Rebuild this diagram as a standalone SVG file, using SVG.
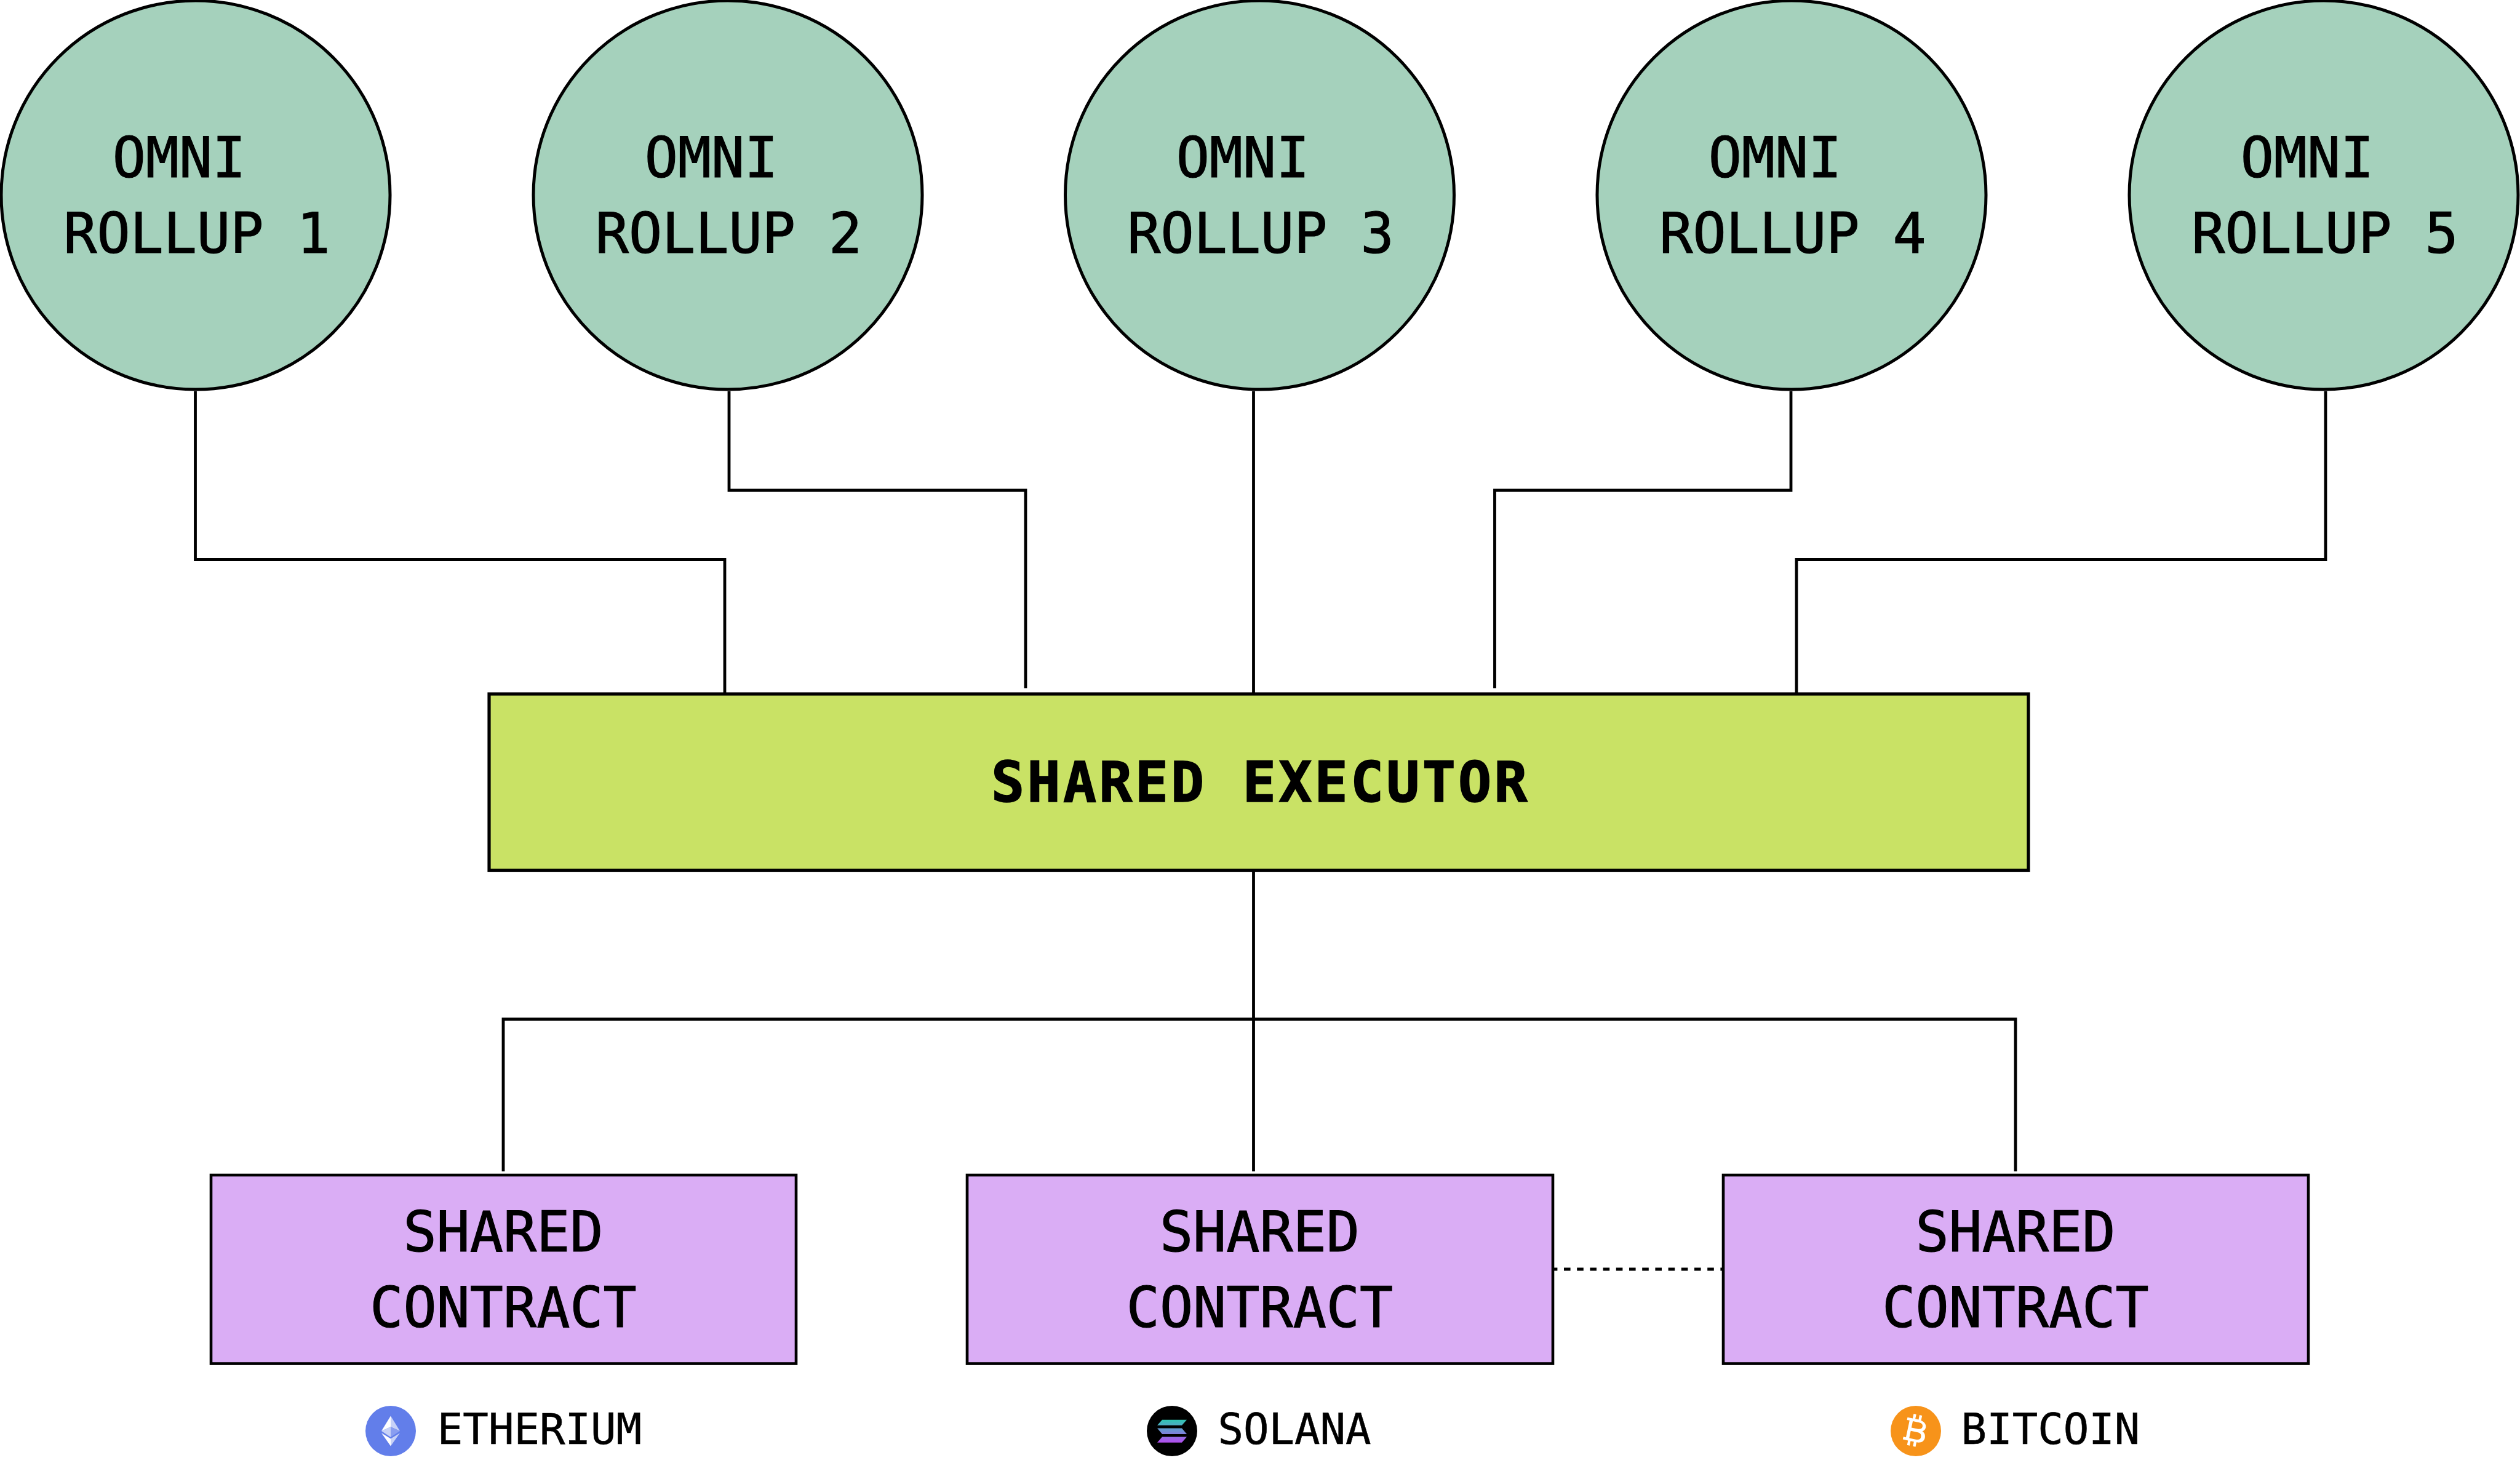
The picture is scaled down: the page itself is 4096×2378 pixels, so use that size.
<svg xmlns="http://www.w3.org/2000/svg" width="4096" height="2378" viewBox="0 0 4096 2378">
<style>
text{font-family:"DejaVu Sans Mono","Liberation Mono",monospace;fill:#000;stroke:#000;text-anchor:middle}
.t{font-size:90px;stroke-width:1.2px}
.b{font-size:90px;font-weight:700;letter-spacing:4.2px;stroke-width:1.6px}
.l{font-size:69px;stroke-width:.6px}
.c{fill:#A5D1BC;stroke:#000;stroke-width:5}
.p{fill:#DAADF5;stroke:#000;stroke-width:4.6}
.e{fill:#C9E265;stroke:#000;stroke-width:5.2}
#connectors path{fill:none;stroke:#000;stroke-width:4.8}
</style>
<defs>
<linearGradient id="sg" x1="0" y1="-19" x2="0" y2="19" gradientUnits="userSpaceOnUse"><stop offset="0" stop-color="#2CC8B0"/><stop offset="0.5" stop-color="#6F90D4"/><stop offset="1" stop-color="#B44CEF"/></linearGradient>
</defs>
<rect width="4096" height="2378" fill="#fff"/>
<g id="connectors">
<path d="M317.5 636V909.500H1178V1126"/>
<path d="M1185 636V797H1667V1118.500"/>
<path d="M2037.5 636V1126"/>
<path d="M2911 636V797H2429.500V1118.500"/>
<path d="M3780 636V909.500H2920V1126"/>
<path d="M2037.5 1417V1904"/>
<path d="M818 1904V1656.500H3276V1904"/>
<path d="M2520.8 2063H2804" style="stroke-dasharray:10.6 10.6"/>
</g>
<g id="rollup1"><circle class="c" cx="318" cy="317" r="316"/><text class="t" x="291" y="288">OMNI</text><text class="t" x="320" y="411">ROLLUP 1</text></g>
<g id="rollup2"><circle class="c" cx="1183" cy="317" r="316"/><text class="t" x="1156" y="288">OMNI</text><text class="t" x="1184.500" y="411">ROLLUP 2</text></g>
<g id="rollup3"><circle class="c" cx="2047.5" cy="317" r="316"/><text class="t" x="2020" y="288">OMNI</text><text class="t" x="2049" y="411">ROLLUP 3</text></g>
<g id="rollup4"><circle class="c" cx="2912" cy="317" r="316"/><text class="t" x="2885" y="288">OMNI</text><text class="t" x="2914" y="411">ROLLUP 4</text></g>
<g id="rollup5"><circle class="c" cx="3777" cy="317" r="316"/><text class="t" x="3750" y="288">OMNI</text><text class="t" x="3779" y="411">ROLLUP 5</text></g>
<g id="executor"><rect class="e" x="795" y="1128" width="2502" height="286.500"/><text class="b" x="2049" y="1303">SHARED EXECUTOR</text></g>
<g id="contract1"><rect class="p" x="343" y="1910" width="951" height="306.500"/><text class="t" x="818" y="2034">SHARED</text><text class="t" x="818" y="2157">CONTRACT</text></g>
<g id="contract2"><rect class="p" x="1572" y="1910" width="952" height="306.500"/><text class="t" x="2047.500" y="2034">SHARED</text><text class="t" x="2047.500" y="2157">CONTRACT</text></g>
<g id="contract3"><rect class="p" x="2801" y="1910" width="951" height="306.500"/><text class="t" x="3276" y="2034">SHARED</text><text class="t" x="3276" y="2157">CONTRACT</text></g>
<g id="ethereum">
<circle cx="635" cy="2326" r="41" fill="#627EEA"/>
<g transform="translate(635 2326)">
<path d="M0-24.600L-15 0 0-6.800Z" fill="#fff"/>
<path d="M0-24.600L15 0 0-6.800Z" fill="#C8D2F7"/>
<path d="M-15 0L0-6.800V10Z" fill="#C8D2F7"/>
<path d="M15 0L0-6.800V10Z" fill="#8A9EF0"/>
<path d="M-15 3.300L0 12.400V24.500Z" fill="#fff"/>
<path d="M15 3.300L0 12.400V24.500Z" fill="#C8D2F7"/>
</g>
<text class="l" x="877" y="2347">ETHERIUM</text>
</g>
<g id="solana">
<circle cx="1905" cy="2326" r="41" fill="#000"/>
<g transform="translate(1905 2326)" fill="url(#sg)">
<path d="M-16-18.300H24L16-9.200H-24Z"/>
<path d="M-24-4.400H16L24 5H-16Z"/>
<path d="M-16 9.500H24L16 18.800H-24Z"/>
</g>
<text class="l" x="2104" y="2347">SOLANA</text>
</g>
<g id="bitcoin">
<circle cx="3114" cy="2326" r="41" fill="#F7931A"/>
<path transform="translate(3112.500 2325) rotate(12) scale(1.08)" fill="#fff" fill-rule="evenodd" d="M-15-17H-7V-24H-3V-17H2V-24H6V-16.500C13-15 15-11 15-8C15-4 13-2 11-1C15 0 17 4 17 8C17 14 12 17 6 17V24H2V17H-3V24H-7V17H-15V13H-11V-13H-15ZM-6-13V-3H3C8-3 10-5 10-8C10-11 8-13 3-13ZM-6 2V13H4C9 13 11 11 11 8C11 4 9 2 4 2Z"/>
<text class="l" x="3333" y="2347">BITCOIN</text>
</g>
</svg>
